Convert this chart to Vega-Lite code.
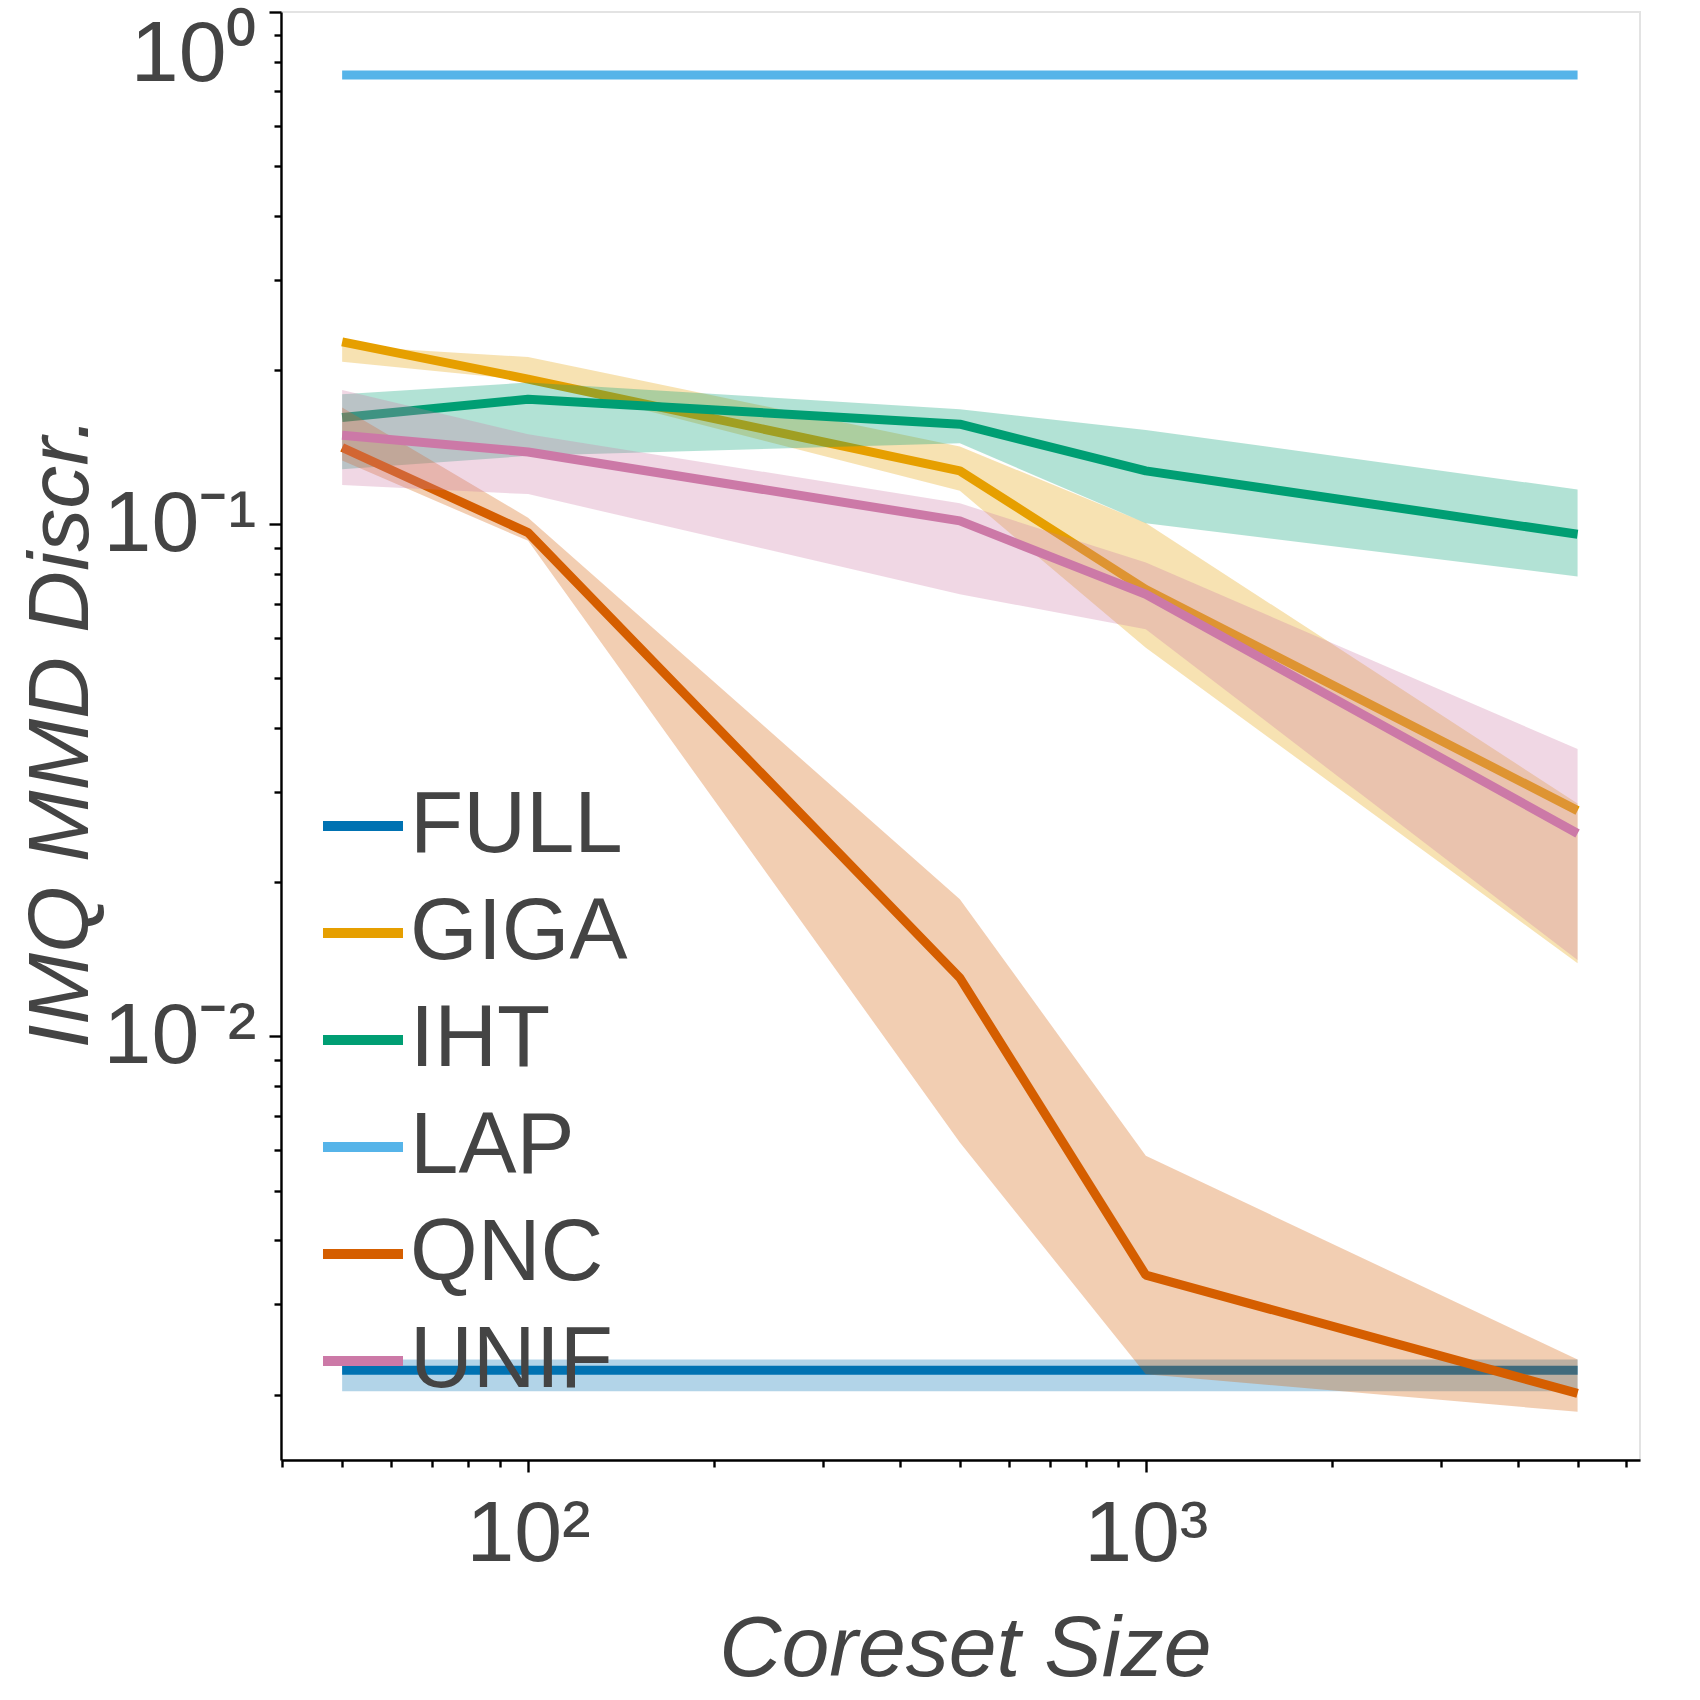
{
  "$schema": "https://vega.github.io/schema/vega-lite/v6.json",
  "width": 1359,
  "height": 1448,
  "autosize": {"type": "none"},
  "padding": {"left": 281, "top": 12, "right": 60, "bottom": 240},
  "background": "white",
  "config": {
    "view": {"stroke": "#e3e3e3", "strokeWidth": 2},
    "font": "Liberation Sans",
    "axis": {
      "grid": false,
      "domainColor": "#000000",
      "domainWidth": 2.4,
      "tickColor": "#000000",
      "tickWidth": 2.4,
      "labelFont": "Liberation Sans",
      "labelFontSize": 86,
      "labelColor": "#444444",
      "labelOverlap": false,
      "labelFlush": false,
      "titleFont": "Liberation Sans",
      "titleFontSize": 86,
      "titleFontStyle": "italic",
      "titleFontWeight": "normal",
      "titleColor": "#444444"
    }
  },
  "data": {
    "values": [
      {"method": "FULL", "size": 50, "val": 0.00223, "lo": 0.00203, "hi": 0.00234},
      {"method": "FULL", "size": 100, "val": 0.00223, "lo": 0.00203, "hi": 0.00234},
      {"method": "FULL", "size": 500, "val": 0.00223, "lo": 0.00203, "hi": 0.00234},
      {"method": "FULL", "size": 1000, "val": 0.00223, "lo": 0.00203, "hi": 0.00234},
      {"method": "FULL", "size": 5000, "val": 0.00223, "lo": 0.00203, "hi": 0.00234},
      {"method": "GIGA", "size": 50, "val": 0.227, "lo": 0.2075, "hi": 0.223},
      {"method": "GIGA", "size": 100, "val": 0.192, "lo": 0.191, "hi": 0.212},
      {"method": "GIGA", "size": 500, "val": 0.1271, "lo": 0.1162, "hi": 0.1418},
      {"method": "GIGA", "size": 1000, "val": 0.0746, "lo": 0.0574, "hi": 0.1006},
      {"method": "GIGA", "size": 5000, "val": 0.0276, "lo": 0.0139, "hi": 0.0285},
      {"method": "IHT", "size": 50, "val": 0.1616, "lo": 0.1281, "hi": 0.1794},
      {"method": "IHT", "size": 100, "val": 0.1754, "lo": 0.136, "hi": 0.1891},
      {"method": "IHT", "size": 500, "val": 0.1568, "lo": 0.1439, "hi": 0.1677},
      {"method": "IHT", "size": 1000, "val": 0.1271, "lo": 0.1005, "hi": 0.1528},
      {"method": "IHT", "size": 5000, "val": 0.0956, "lo": 0.0791, "hi": 0.1169},
      {"method": "LAP", "size": 50, "val": 0.753, "lo": 0.753, "hi": 0.753},
      {"method": "LAP", "size": 100, "val": 0.753, "lo": 0.753, "hi": 0.753},
      {"method": "LAP", "size": 500, "val": 0.753, "lo": 0.753, "hi": 0.753},
      {"method": "LAP", "size": 1000, "val": 0.753, "lo": 0.753, "hi": 0.753},
      {"method": "LAP", "size": 5000, "val": 0.753, "lo": 0.753, "hi": 0.753},
      {"method": "QNC", "size": 50, "val": 0.1412, "lo": 0.1332, "hi": 0.169},
      {"method": "QNC", "size": 100, "val": 0.0963, "lo": 0.0928, "hi": 0.103},
      {"method": "QNC", "size": 500, "val": 0.01302, "lo": 0.00621, "hi": 0.01854},
      {"method": "QNC", "size": 1000, "val": 0.00342, "lo": 0.00219, "hi": 0.00585},
      {"method": "QNC", "size": 5000, "val": 0.00201, "lo": 0.00185, "hi": 0.00234},
      {"method": "UNIF", "size": 50, "val": 0.1492, "lo": 0.1193, "hi": 0.1829},
      {"method": "UNIF", "size": 100, "val": 0.1384, "lo": 0.1145, "hi": 0.1499},
      {"method": "UNIF", "size": 500, "val": 0.1015, "lo": 0.073, "hi": 0.1099},
      {"method": "UNIF", "size": 1000, "val": 0.073, "lo": 0.0624, "hi": 0.0842},
      {"method": "UNIF", "size": 5000, "val": 0.0249, "lo": 0.0141, "hi": 0.0364}
    ]
  },
  "encoding": {
    "x": {
      "field": "size",
      "type": "quantitative",
      "scale": {"type": "log", "domain": [39.81, 6310], "nice": false},
      "axis": {
        "title": "Coreset Size",
        "values": [40, 50, 60, 70, 80, 90, 100, 200, 300, 400, 500, 600, 700, 800, 900, 1000, 2000, 3000, 4000, 5000, 6000],
        "labelExpr": "datum.value == 100 ? '10²' : datum.value == 1000 ? '10³' : ''",
        "tickSize": {"condition": {"test": "datum.value == 100 || datum.value == 1000", "value": 12}, "value": 7},
        "labelPadding": 20,
        "titleX": 684,
        "titleY": 215,
        "titleAlign": "center",
        "titleBaseline": "alphabetic"
      }
    }
  },
  "layer": [
    {
      "transform": [{"filter": "datum.method == 'FULL'"}],
      "mark": {"type": "area", "opacity": 0.3, "color": "#0072B2"},
      "encoding": {
        "y": {
          "field": "lo",
          "type": "quantitative",
          "scale": {"type": "log", "domain": [0.00149, 1], "nice": false},
          "title": "IMQ MMD Discr.",
          "axis": {
            "title": "IMQ MMD Discr.",
            "values": [0.002, 0.003, 0.004, 0.005, 0.006, 0.007, 0.008, 0.009, 0.01, 0.02, 0.03, 0.04, 0.05, 0.06, 0.07, 0.08, 0.09, 0.1, 0.2, 0.3, 0.4, 0.5, 0.6, 0.7, 0.8, 0.9, 1],
            "labelExpr": "datum.value == 1 ? '10⁰' : datum.value == 0.1 ? '10ˉ¹' : datum.value == 0.01 ? '10ˉ²' : ''",
            "tickSize": {"condition": {"test": "datum.value == 1 || datum.value == 0.1 || datum.value == 0.01", "value": 12}, "value": 7},
            "labelPadding": 13,
            "labelFlush": true,
            "titleX": -194,
            "titleY": 720,
            "titleAlign": "center",
            "titleBaseline": "alphabetic",
            "titleAngle": -90
          }
        },
        "y2": {"field": "hi"}
      }
    },
    {
      "transform": [{"filter": "datum.method == 'FULL'"}],
      "mark": {"type": "line", "strokeWidth": 9, "strokeJoin": "bevel"},
      "encoding": {
        "y": {"field": "val", "type": "quantitative", "scale": {"type": "log", "domain": [0.00149, 1], "nice": false}, "title": "IMQ MMD Discr."},
        "color": {
          "field": "method",
          "type": "nominal",
          "scale": {"domain": ["FULL", "GIGA", "IHT", "LAP", "QNC", "UNIF"], "range": ["#0072B2", "#E69F00", "#009E73", "#56B4E9", "#D55E00", "#CC79A7"]},
          "legend": {
            "orient": "none",
            "legendX": 37,
            "legendY": 769,
            "title": null,
            "symbolType": "stroke",
            "symbolSize": 6400,
            "symbolStrokeWidth": 10,
            "symbolOpacity": 1,
            "labelFont": "Liberation Sans",
            "labelFontSize": 87,
            "labelColor": "#444444",
            "labelLimit": 800,
            "labelOffset": 2,
            "rowPadding": 19,
            "padding": 0
          }
        }
      }
    },
    {
      "transform": [{"filter": "datum.method == 'GIGA'"}],
      "mark": {"type": "area", "opacity": 0.3, "color": "#E69F00"},
      "encoding": {
        "y": {"field": "lo", "type": "quantitative", "scale": {"type": "log", "domain": [0.00149, 1], "nice": false}, "title": "IMQ MMD Discr."},
        "y2": {"field": "hi"}
      }
    },
    {
      "transform": [{"filter": "datum.method == 'GIGA'"}],
      "mark": {"type": "line", "strokeWidth": 9, "strokeJoin": "bevel"},
      "encoding": {
        "y": {"field": "val", "type": "quantitative", "scale": {"type": "log", "domain": [0.00149, 1], "nice": false}, "title": "IMQ MMD Discr."},
        "color": {"field": "method", "type": "nominal", "scale": {"domain": ["FULL", "GIGA", "IHT", "LAP", "QNC", "UNIF"], "range": ["#0072B2", "#E69F00", "#009E73", "#56B4E9", "#D55E00", "#CC79A7"]}}
      }
    },
    {
      "transform": [{"filter": "datum.method == 'IHT'"}],
      "mark": {"type": "area", "opacity": 0.3, "color": "#009E73"},
      "encoding": {
        "y": {"field": "lo", "type": "quantitative", "scale": {"type": "log", "domain": [0.00149, 1], "nice": false}, "title": "IMQ MMD Discr."},
        "y2": {"field": "hi"}
      }
    },
    {
      "transform": [{"filter": "datum.method == 'IHT'"}],
      "mark": {"type": "line", "strokeWidth": 9, "strokeJoin": "bevel"},
      "encoding": {
        "y": {"field": "val", "type": "quantitative", "scale": {"type": "log", "domain": [0.00149, 1], "nice": false}, "title": "IMQ MMD Discr."},
        "color": {"field": "method", "type": "nominal", "scale": {"domain": ["FULL", "GIGA", "IHT", "LAP", "QNC", "UNIF"], "range": ["#0072B2", "#E69F00", "#009E73", "#56B4E9", "#D55E00", "#CC79A7"]}}
      }
    },
    {
      "transform": [{"filter": "datum.method == 'LAP'"}],
      "mark": {"type": "line", "strokeWidth": 9, "strokeJoin": "bevel"},
      "encoding": {
        "y": {"field": "val", "type": "quantitative", "scale": {"type": "log", "domain": [0.00149, 1], "nice": false}, "title": "IMQ MMD Discr."},
        "color": {"field": "method", "type": "nominal", "scale": {"domain": ["FULL", "GIGA", "IHT", "LAP", "QNC", "UNIF"], "range": ["#0072B2", "#E69F00", "#009E73", "#56B4E9", "#D55E00", "#CC79A7"]}}
      }
    },
    {
      "transform": [{"filter": "datum.method == 'QNC'"}],
      "mark": {"type": "area", "opacity": 0.3, "color": "#D55E00"},
      "encoding": {
        "y": {"field": "lo", "type": "quantitative", "scale": {"type": "log", "domain": [0.00149, 1], "nice": false}, "title": "IMQ MMD Discr."},
        "y2": {"field": "hi"}
      }
    },
    {
      "transform": [{"filter": "datum.method == 'QNC'"}],
      "mark": {"type": "line", "strokeWidth": 9, "strokeJoin": "bevel"},
      "encoding": {
        "y": {"field": "val", "type": "quantitative", "scale": {"type": "log", "domain": [0.00149, 1], "nice": false}, "title": "IMQ MMD Discr."},
        "color": {"field": "method", "type": "nominal", "scale": {"domain": ["FULL", "GIGA", "IHT", "LAP", "QNC", "UNIF"], "range": ["#0072B2", "#E69F00", "#009E73", "#56B4E9", "#D55E00", "#CC79A7"]}}
      }
    },
    {
      "transform": [{"filter": "datum.method == 'UNIF'"}],
      "mark": {"type": "area", "opacity": 0.3, "color": "#CC79A7"},
      "encoding": {
        "y": {"field": "lo", "type": "quantitative", "scale": {"type": "log", "domain": [0.00149, 1], "nice": false}, "title": "IMQ MMD Discr."},
        "y2": {"field": "hi"}
      }
    },
    {
      "transform": [{"filter": "datum.method == 'UNIF'"}],
      "mark": {"type": "line", "strokeWidth": 9, "strokeJoin": "bevel"},
      "encoding": {
        "y": {"field": "val", "type": "quantitative", "scale": {"type": "log", "domain": [0.00149, 1], "nice": false}, "title": "IMQ MMD Discr."},
        "color": {"field": "method", "type": "nominal", "scale": {"domain": ["FULL", "GIGA", "IHT", "LAP", "QNC", "UNIF"], "range": ["#0072B2", "#E69F00", "#009E73", "#56B4E9", "#D55E00", "#CC79A7"]}}
      }
    }
  ]
}
